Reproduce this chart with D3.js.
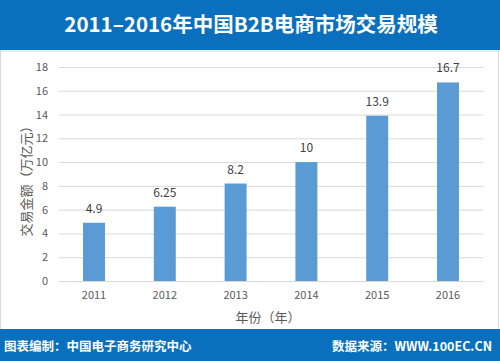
<!DOCTYPE html>
<html><head><meta charset="utf-8">
<script src="https://cdn.jsdelivr.net/npm/d3@7"></script>
<style>body{margin:0;background:#fff;}svg{display:block;}</style>
</head><body>
<script>
const categories = ["2011","2012","2013","2014","2015","2016"];
const values = [4.9, 6.25, 8.2, 10, 13.9, 16.7];
const valueLabels = ["4.9","6.25","8.2","10","13.9","16.7"];
const yTicks = [0,2,4,6,8,10,12,14,16,18];
const title = "2011–2016年中国B2B电商市场交易规模";
const yTitle = "交易金额（万亿元）";
const xTitle = "年份（年）";
const footerLeft = "图表编制：中国电子商务研究中心";
const footerRight = "数据来源：WWW.100EC.CN";

const W = 500, H = 361;
const svg = d3.select("body").append("svg").attr("width", W).attr("height", H);
const font = "'Microsoft YaHei','Noto Sans CJK SC','DejaVu Sans',sans-serif";
const blue = "#0a70bd";

svg.append("rect").attr("x",0).attr("y",0).attr("width",W).attr("height",H).attr("fill","#fff");
svg.append("rect").attr("x",0.5).attr("y",0.5).attr("width",W-2).attr("height",H-1).attr("fill","none").attr("stroke","#d9d9d9");
svg.append("rect").attr("x",0).attr("y",0).attr("width",W).attr("height",50).attr("fill",blue);
svg.append("line").attr("x1",0).attr("x2",W).attr("y1",51).attr("y2",51).attr("stroke","#c9ddef").attr("stroke-width",1);
svg.append("rect").attr("x",0).attr("y",329).attr("width",W).attr("height",H-329).attr("fill",blue);

svg.append("text").attr("x",251).attr("y",32).attr("text-anchor","middle")
  .attr("font-family",font).attr("font-weight","bold").attr("font-size",20.5).attr("fill","#fff").text(title);

const x = d3.scaleBand().domain(categories).range([58.6,483.4]).paddingInner(0.69).paddingOuter(0.345);
const y = d3.scaleLinear().domain([0,18]).range([281,67]);

const g = svg.append("g");
g.selectAll("line.grid").data(yTicks).enter().append("line")
  .attr("x1",58.6).attr("x2",483.4).attr("y1",d=>y(d)+0.5).attr("y2",d=>y(d)+0.5)
  .attr("stroke","#d9d9d9").attr("stroke-width",1);

const yAxis = svg.append("g").attr("transform","translate(58,0)")
  .call(d3.axisLeft(y).tickValues(yTicks).tickSize(0).tickPadding(10));
yAxis.select(".domain").remove();
yAxis.selectAll("text").attr("font-family",font).attr("font-size",11).attr("fill","#595959");

const xAxis = svg.append("g").attr("transform","translate(0,281)")
  .call(d3.axisBottom(x).tickSize(0).tickPadding(10));
xAxis.select(".domain").remove();
xAxis.selectAll("text").attr("font-family",font).attr("font-size",11).attr("fill","#595959");

g.selectAll("rect.bar").data(values).enter().append("rect")
  .attr("x",(d,i)=>x(categories[i])).attr("width",x.bandwidth())
  .attr("y",d=>y(d)).attr("height",d=>y(0)-y(d)).attr("fill","#5b9bd5");

g.selectAll("text.lbl").data(values).enter().append("text")
  .attr("x",(d,i)=>x(categories[i])+x.bandwidth()/2).attr("y",d=>y(d)-10)
  .attr("text-anchor","middle").attr("font-family",font).attr("font-size",12).attr("fill","#404040")
  .text((d,i)=>valueLabels[i]);

svg.append("text").attr("transform","translate(31,178) rotate(-90)").attr("text-anchor","middle")
  .attr("font-family",font).attr("font-size",13).attr("fill","#595959").text(yTitle);
svg.append("text").attr("x",268).attr("y",322).attr("text-anchor","middle")
  .attr("font-family",font).attr("font-size",13).attr("fill","#595959").text(xTitle);

svg.append("text").attr("x",4).attr("y",351).attr("font-family",font).attr("font-weight","bold")
  .attr("font-size",12.5).attr("fill","#fff").text(footerLeft);
svg.append("text").attr("x",492).attr("y",351).attr("text-anchor","end").attr("font-family",font).attr("font-weight","bold")
  .attr("font-size",12.5).attr("fill","#fff").text(footerRight);
</script>
</body></html>
